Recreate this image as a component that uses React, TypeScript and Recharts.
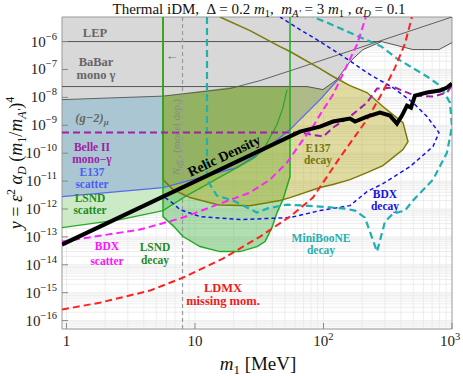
import React from 'react'
import {
  ComposedChart,
  Area,
  Line,
  XAxis,
  YAxis,
  CartesianGrid,
  ReferenceLine,
  ReferenceArea,
} from 'recharts'

// axis limits (log scales)
const XMIN = 0.923
const XMAX = 1000
const YMIN = 5e-17
const YTOP = 7.6e-6

const X_TICKS = [1, 10, 100, 1000]
const Y_TICKS = [1e-16, 1e-15, 1e-14, 1e-13, 1e-12, 1e-11, 1e-10, 1e-9, 1e-8, 1e-7, 1e-6]

// grid lines at 2..9 x 10^n
const X_GRID: number[] = []
for (let e = 0; e < 3; e++) for (let k = 1; k < 10; k++) X_GRID.push(k * 10 ** e)
const Y_GRID: number[] = []
for (let e = -17; e < -5; e++) for (let k = 1; k < 10; k++) {
  const v = k * 10 ** e
  if (v > YMIN && v < YTOP) Y_GRID.push(v)
}

// LEP + BaBar (gray) lower boundary
const GRAY_M = [0.923, 5.64, 20.5, 74.4, 99, 127.4, 160.8, 203, 283, 497, 792, 1000]
const GRAY_LO = [8.3e-9, 1.11e-8, 2.44e-8, 2.44e-8, 1.9e-8, 4.35e-8, 1.92e-7, 5.17e-7, 1e-6, 5.17e-7, 5.17e-7, 9.2e-7]

const LEP_M = [0.923, 283, 497, 792, 1000]
const LEP_Y = [1e-6, 1e-6, 5.17e-7, 5.17e-7, 9.2e-7]
const BABAR_M = [0.923, 74.4, 99, 127.4, 160.8, 203, 283]
const BABAR_Y = [2.44e-8, 2.44e-8, 1.9e-8, 4.35e-8, 1.92e-7, 5.17e-7, 1e-6]
const CURVE_M = [0.923, 5.64, 18.7, 32.1, 65.6, 1000]
const CURVE_Y = [8.3e-9, 1.11e-8, 2.07e-8, 4.0e-8, 1.17e-7, YTOP]

// E137 scatter (with (g-2) region above)
const E137S_M = [0.923, 5.64, 21.2, 35.1, 54.9, 94, 134.5]
const E137S_Y = [2.78e-12, 5.85e-12, 3.05e-11, 1.35e-10, 7.0e-10, 8.3e-9, 5.2e-8]

// LSND scatter
const LSNDS_M = [0.923, 2.61, 5.64, 8.36, 13.1, 21.2, 29.3, 35.1, 43.5, 48.4, 52]
const LSNDS_Y = [2.15e-13, 4.17e-13, 8.77e-13, 2.78e-12, 8.83e-12, 3.05e-11, 6.95e-11, 1.73e-10, 1.06e-9, 4.3e-9, 1.9e-8]

// LSND decay (closed region, lower edge)
const LSNDD_M = [5.64, 6.74, 8.07, 10.94, 15.65, 22.4, 30.4, 35.1, 39.7, 43.5, 48.4, 54.9]
const LSNDD_LO = [5.35e-13, 2.54e-13, 1.03e-13, 4.49e-14, 2.97e-14, 2.97e-14, 4.49e-14, 6.8e-14, 2.15e-13, 7.43e-13, 2.17e-12, 1.45e-11]

// E137 decay (closed region)
const E137D_M = [5.64, 6.74, 9.14, 14.8, 15.65, 26.8, 45.9, 54.9, 94, 118.6, 160.8, 218, 290, 415.6, 454.6]
const E137D_LO = [1.13e-11, 4.96e-12, 2.56e-12, 1.44e-12, 1.38e-12, 1.32e-12, 2.0e-12, 2.56e-12, 5.85e-12, 7.5e-12, 1.13e-11, 2.02e-11, 3.6e-11, 1.35e-10, 2.6e-10]
const E137D_HI = [YTOP, YTOP, YTOP, YTOP, YTOP, 2.48e-6, 6.6e-7, 4.4e-7, 1.08e-7, 5.6e-8, 2.65e-8, 1.49e-8, 4.7e-9, 1.25e-9, 2.6e-10]

// relic density target
const RELIC_M = [0.923, 65.6, 94, 118.6, 160.8, 175.9, 218, 275, 329, 373, 408, 446, 480, 515, 639, 806, 914, 1000]
const RELIC_Y = [5.3e-14, 5.94e-10, 8.98e-10, 1.36e-9, 1.74e-9, 1.36e-9, 2.05e-9, 2.85e-9, 2.23e-9, 1.15e-9, 2.23e-9, 5.08e-9, 4.3e-9, 1.16e-8, 1.49e-8, 1.75e-8, 2.24e-8, 3.13e-8]

// Belle II mono-gamma
const BELLE_M = [0.923, 65.6, 99.5, 118.6, 160.8, 218, 261, 360, 515, 711, 914, 1000]
const BELLE_Y = [5.47e-10, 5.47e-10, 3.93e-10, 8.27e-10, 2.05e-9, 6.5e-9, 2.07e-8, 2.24e-8, 1.16e-8, 1.07e-8, 1.49e-8, 2.65e-8]

// BDX scatter
const BDXS_M = [0.923, 3.73, 8.07, 16.5, 26.8, 38.4, 52, 69.3, 82.8, 97.3, 118.6, 147, 182, 214]
const BDXS_Y = [6.8e-14, 1.83e-13, 4.92e-13, 1.7e-12, 3.87e-12, 1.13e-11, 4.6e-11, 3.07e-10, 8.98e-10, 3.1e-9, 1.26e-8, 9.9e-8, 7.8e-7, YTOP]

// LDMX missing momentum
const LDMX_M = [0.923, 1.82, 4.47, 8.07, 16.5, 32.1, 54.9, 82.8, 134, 218, 290, 360, 431, 488]
const LDMX_Y = [2.48e-16, 4.4e-16, 1.19e-15, 3.48e-15, 1.67e-14, 1.03e-13, 5.35e-13, 2.56e-12, 6.95e-11, 1.6e-9, 1.6e-8, 1.17e-7, 8.5e-7, YTOP]

// BDX decay contour
const BDXD_M = [5.84, 6.62, 7.64, 10.94, 22.4, 54.9, 94, 160.8, 218, 290, 471, 711, 792, 639, 497, 347, 230, 155, 94, 65.6, 45.9]
const BDXD_Y = [2.56e-12, 1.7e-12, 9.5e-13, 5.35e-13, 4.17e-13, 4.92e-13, 8.77e-13, 1.32e-12, 4.2e-12, 8.1e-12, 3.3e-11, 1.73e-10, 5.47e-10, 2.05e-9, 6.5e-9, 2.24e-8, 6.56e-8, 2.27e-7, 1e-6, 2.69e-6, YTOP]

// MiniBooNE decay contour
const MB_M = [12.4, 12.4, 14.8, 19.8, 30.4, 36.3, 52, 94, 147, 175.9, 210, 261, 301, 347, 431, 488, 711, 914, 1000, 965, 806, 639, 373, 283, 106.5, 82.8]
const MB_Y = [YTOP, 1.13e-11, 3.02e-12, 2.0e-12, 7.43e-13, 1.03e-12, 1.44e-12, 1.22e-12, 1.03e-12, 8.77e-13, 4.92e-13, 2.97e-14, 3.53e-13, 6.84e-13, 8.77e-13, 1.84e-12, 1.13e-11, 1.05e-10, 8.98e-10, 6.5e-9, 2.65e-8, 5.6e-8, 2.46e-7, 6.6e-7, 4.8e-6, YTOP]

const NEFF_M = 8.0

const pts = (m: number[], y: number[]) => m.map((v, i) => ({ m: v, y: y[i] }))
const band = (m: number[], lo: number[], hi: number[] | number) =>
  m.map((v, i) => ({ m: v, r: [lo[i], Array.isArray(hi) ? hi[i] : hi] }))

// outlines of closed regions
const lsndOutline = [{ m: LSNDD_M[0], y: YTOP }, ...pts(LSNDD_M, LSNDD_LO), { m: LSNDD_M[LSNDD_M.length - 1], y: YTOP }]
const e137Outline = [
  { m: E137D_M[0], y: YTOP },
  ...pts(E137D_M, E137D_LO),
  ...pts(E137D_M, E137D_HI).reverse().filter(p => p.y < YTOP),
  { m: 15.65, y: YTOP },
]

const FONT = "'Liberation Serif', 'Times New Roman', Times, 'DejaVu Serif', serif"
const SERIF = { fontFamily: FONT }

const XTick = (props: any) => {
  const { x, y, payload } = props
  const v = payload.value
  const e = Math.round(Math.log10(v))
  return (
    <g>
      <line x1={x} x2={x} y1={y} y2={y - 6} stroke="#888" />
      <text x={e === 3 ? x - 2 : x} y={y + 17} textAnchor="middle" style={SERIF} fontSize={15} fill="#222">
        {e < 2 ? String(v) : '10'}
        {e >= 2 && <tspan dy={-6} fontSize={10.5}>{e}</tspan>}
      </text>
    </g>
  )
}

const YTick = (props: any) => {
  const { x, y, payload } = props
  const e = Math.round(Math.log10(payload.value))
  return (
    <g>
      <line x1={x} x2={x + 6} y1={y} y2={y} stroke="#888" />
      <text x={x - 5} y={y + 5} textAnchor="end" style={SERIF} fontSize={15} fill="#222">
        10<tspan dy={-7} fontSize={10.5}>{'−' + Math.abs(e)}</tspan>
      </text>
    </g>
  )
}

const lbl = (x: number, y: number, lines: string[], color: string, size = 11.5, gap = 11.5) => (
  <text x={x} y={y} textAnchor="middle" style={SERIF} fontWeight="bold" fontSize={size} fill={color}>
    {lines.map((s, i) => (
      <tspan key={i} x={x} dy={i === 0 ? 0 : gap}>{s}</tspan>
    ))}
  </text>
)

export default function App() {
  return (
    <div style={{ position: 'absolute', left: 0, top: 0, width: 463, height: 376, background: '#fff' }}>
      <ComposedChart width={463} height={376} margin={{ top: 17, right: 11, bottom: 17, left: 12 }}>
        <XAxis
          type="number"
          dataKey="m"
          scale="log"
          domain={[XMIN, XMAX]}
          allowDataOverflow
          ticks={X_TICKS}
          interval={0}
          height={30}
          axisLine={false}
          tickLine={false}
          tickSize={0}
          tickMargin={0}
          tick={<XTick />}
        />
        <YAxis
          type="number"
          scale="log"
          domain={[YMIN, YTOP]}
          allowDataOverflow
          ticks={Y_TICKS}
          interval={0}
          width={50}
          axisLine={false}
          tickLine={false}
          tickSize={0}
          tickMargin={0}
          tick={<YTick />}
        />
        <CartesianGrid verticalValues={X_GRID} horizontalValues={Y_GRID} stroke="#e9e9e9" strokeWidth={0.8} />

        {/* filled regions */}
        <Area data={band(LSNDS_M, LSNDS_Y, YTOP)} dataKey="r" type="linear" fill="#cdeac6" fillOpacity={1} stroke="none" isAnimationActive={false} />
        <Area data={band(E137S_M, E137S_Y, YTOP)} dataKey="r" type="linear" fill="#aac6d2" fillOpacity={1} stroke="none" isAnimationActive={false} />
        <Area data={band(LSNDD_M, LSNDD_LO, YTOP)} dataKey="r" type="linear" fill="#28a628" fillOpacity={0.36} stroke="none" isAnimationActive={false} />
        <Area data={band(E137D_M, E137D_LO, E137D_HI)} dataKey="r" type="linear" fill="#b4aa1e" fillOpacity={0.42} stroke="none" isAnimationActive={false} />
        <Area data={band(GRAY_M, GRAY_LO, YTOP)} dataKey="r" type="linear" fill="#d8d8d8" fillOpacity={1} stroke="none" isAnimationActive={false} />

        {/* thin boundaries of gray region */}
        <Line data={pts(LEP_M, LEP_Y)} dataKey="y" type="linear" stroke="#555" strokeWidth={1} dot={false} activeDot={false} isAnimationActive={false} />
        <Line data={pts(BABAR_M, BABAR_Y)} dataKey="y" type="linear" stroke="#555" strokeWidth={1} dot={false} activeDot={false} isAnimationActive={false} />
        <Line data={pts(CURVE_M, CURVE_Y)} dataKey="y" type="linear" stroke="#555" strokeWidth={0.9} dot={false} activeDot={false} isAnimationActive={false} />

        <ReferenceLine x={NEFF_M} stroke="#999" strokeDasharray="4 3" strokeWidth={1.2} />

        {/* outlines */}
        <Line data={pts(E137S_M, E137S_Y)} dataKey="y" type="linear" stroke="#5868f2" strokeWidth={1.3} dot={false} activeDot={false} isAnimationActive={false} />
        <Line data={pts(LSNDS_M, LSNDS_Y)} dataKey="y" type="linear" stroke="#2aa82a" strokeWidth={1.3} dot={false} activeDot={false} isAnimationActive={false} />
        <Line data={e137Outline} dataKey="y" type="linear" stroke="#7c7a06" strokeWidth={1.5} dot={false} activeDot={false} isAnimationActive={false} />
        <Line data={lsndOutline} dataKey="y" type="linear" stroke="#22aa22" strokeWidth={1.5} dot={false} activeDot={false} isAnimationActive={false} />

        <Line data={pts(BDXD_M, BDXD_Y)} dataKey="y" type="linear" stroke="#1414ee" strokeWidth={1.5} strokeDasharray="4 3" dot={false} activeDot={false} isAnimationActive={false} />
        <Line data={pts(MB_M, MB_Y)} dataKey="y" type="linear" stroke="#1fb0b0" strokeWidth={2.2} strokeDasharray="7 4" dot={false} activeDot={false} isAnimationActive={false} />
        <Line data={pts(BELLE_M, BELLE_Y)} dataKey="y" type="linear" stroke="#a020a8" strokeWidth={2} strokeDasharray="7 4" dot={false} activeDot={false} isAnimationActive={false} />
        <Line data={pts(BDXS_M, BDXS_Y)} dataKey="y" type="linear" stroke="#ff22ff" strokeWidth={2} strokeDasharray="7 4" dot={false} activeDot={false} isAnimationActive={false} />
        <Line data={pts(LDMX_M, LDMX_Y)} dataKey="y" type="linear" stroke="#ff2020" strokeWidth={2} strokeDasharray="7 4" dot={false} activeDot={false} isAnimationActive={false} />
        <Line data={pts(RELIC_M, RELIC_Y)} dataKey="y" type="linear" stroke="#000" strokeWidth={4} dot={false} activeDot={false} isAnimationActive={false} />

        <ReferenceArea x1={XMIN} x2={XMAX} y1={YMIN} y2={YTOP} fill="none" stroke="#999" strokeWidth={1} ifOverflow="visible" />
      </ComposedChart>

      <svg width={463} height={376} style={{ position: 'absolute', left: 0, top: 0, pointerEvents: 'none', fontFamily: FONT }}>
        <text x={259} y={14} textAnchor="middle" fontSize={15} fill="#111" style={{ ...SERIF, whiteSpace: 'pre' }}>
          {'Thermal iDM,  Δ = 0.2 '}
          <tspan fontStyle="italic">m</tspan>
          <tspan fontSize={10.5} dy={3}>1</tspan>
          <tspan dy={-3}>{',  '}</tspan>
          <tspan fontStyle="italic">m</tspan>
          <tspan fontSize={10.5} dy={3} fontStyle="italic">{"A'"}</tspan>
          <tspan dy={-3}>{' = 3 '}</tspan>
          <tspan fontStyle="italic">m</tspan>
          <tspan fontSize={10.5} dy={3}>1</tspan>
          <tspan dy={-3}>{' , '}</tspan>
          <tspan fontStyle="italic">α</tspan>
          <tspan fontSize={10.5} dy={3} fontStyle="italic">D</tspan>
          <tspan dy={-3}>{' = 0.1'}</tspan>
        </text>

        <text transform="translate(22,163) rotate(-90)" textAnchor="middle" fontSize={18} fill="#111" style={{ ...SERIF, whiteSpace: 'pre' }}>
          <tspan fontStyle="italic">y</tspan>
          {' = '}
          <tspan fontStyle="italic">ε</tspan>
          <tspan fontSize={12} dy={-7}>2</tspan>
          <tspan dy={7}>{' '}</tspan>
          <tspan fontStyle="italic">α</tspan>
          <tspan fontSize={12} dy={4} fontStyle="italic">D</tspan>
          <tspan dy={-4}>{' ('}</tspan>
          <tspan fontStyle="italic">m</tspan>
          <tspan fontSize={12} dy={4}>1</tspan>
          <tspan dy={-4}>/</tspan>
          <tspan fontStyle="italic">m</tspan>
          <tspan fontSize={12} dy={4} fontStyle="italic">{"A'"}</tspan>
          <tspan dy={-4}>)</tspan>
          <tspan fontSize={12} dy={-8}>4</tspan>
        </text>

        <text x={258} y={370} textAnchor="middle" fontSize={19} fill="#111" style={{ ...SERIF, whiteSpace: 'pre' }}>
          <tspan fontStyle="italic">m</tspan>
          <tspan fontSize={13} dy={4}>1</tspan>
          <tspan dy={-4}>{' [MeV]'}</tspan>
        </text>

        {lbl(95, 37, ['LEP'], '#666', 12.5)}
        {lbl(96, 66, ['BaBar', 'mono γ'], '#666', 12.5, 13)}
        <text x={92} y={122} textAnchor="middle" fontSize={12.5} fontWeight="bold" fill="#666" fontStyle="italic" style={SERIF}>
          (g−2)<tspan fontSize={9} dy={3}>μ</tspan>
        </text>
        {lbl(92, 151, ['Belle II', 'mono−γ'], '#a020a8')}
        {lbl(92, 176, ['E137', 'scatter'], '#4e5ef2')}
        {lbl(90, 202, ['LSND', 'scatter'], '#1e8a1e')}
        {lbl(107, 250, ['BDX', 'scatter'], '#ff10ff', 11.5, 15)}
        {lbl(155, 251, ['LSND', 'decay'], '#1e8a1e', 11.5, 13)}
        {lbl(318, 152, ['E137', 'decay'], '#77750a', 11.5, 12)}
        {lbl(385, 198, ['BDX', 'decay'], '#1414dd', 11.5, 12)}
        {lbl(321, 242, ['MiniBooNE', 'decay'], '#1fb0b0', 11.5, 12)}
        {lbl(223, 292, ['LDMX', 'missing mom.'], '#ee1c1c', 12.5, 13)}

        <text transform="translate(226,160) rotate(-25.5)" textAnchor="middle" fontSize={14} fontWeight="bold" fill="#000" style={SERIF}>
          Relic Density
        </text>
        <text transform="translate(180,137) rotate(-90)" textAnchor="middle" fontSize={10.5} fill="#888" style={{ ...SERIF, whiteSpace: 'pre' }}>
          <tspan fontStyle="italic">N</tspan>
          <tspan fontSize={7.5} dy={2} fontStyle="italic">eff</tspan>
          <tspan dy={-2}>{' , (model dep.)'}</tspan>
        </text>
        <text x={172} y={60} textAnchor="middle" fontSize={13} fill="#777" style={SERIF}>←</text>
      </svg>
    </div>
  )
}
